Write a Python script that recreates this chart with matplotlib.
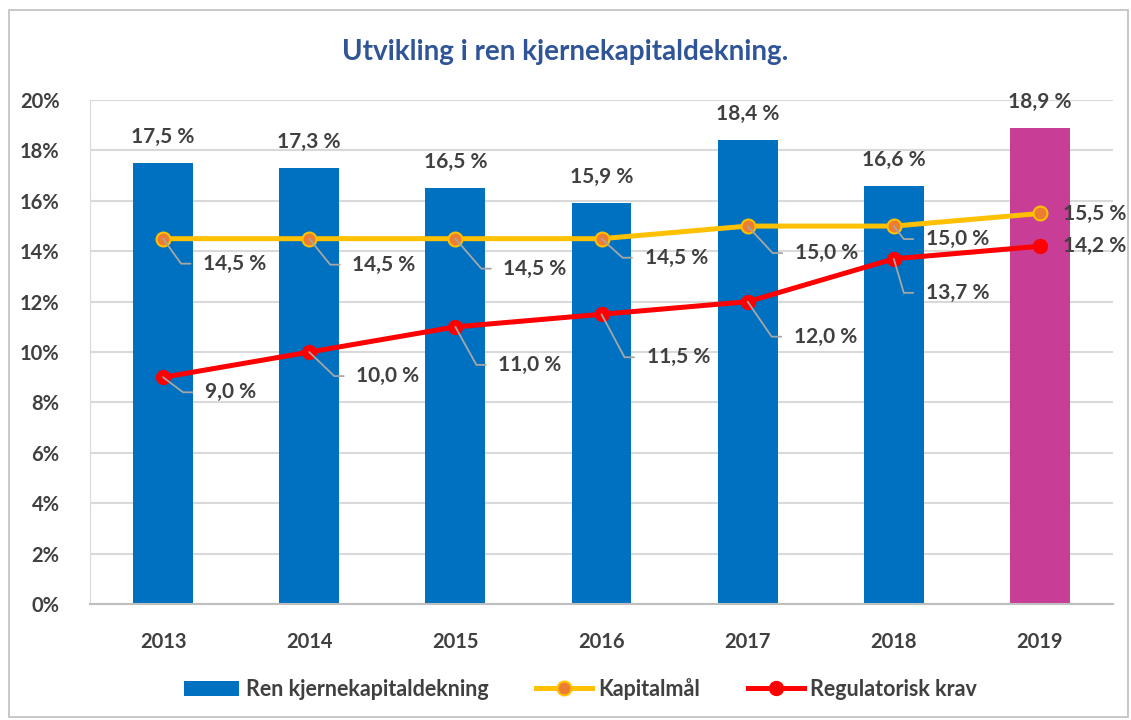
"""Utvikling i ren kjernekapitaldekning - bar + line combo chart."""

import math

import matplotlib

matplotlib.use("Agg")
import matplotlib.pyplot as plt
from matplotlib.patches import Rectangle
from matplotlib.ticker import FuncFormatter, MultipleLocator

# =====================================================================
# Data
# =====================================================================

years = ["2013", "2014", "2015", "2016", "2017", "2018", "2019"]
ren_kjernekapital = [17.5, 17.3, 16.5, 15.9, 18.4, 16.6, 18.9]
kapitalmaal = [14.5, 14.5, 14.5, 14.5, 15.0, 15.0, 15.5]
regulatorisk_krav = [9.0, 10.0, 11.0, 11.5, 12.0, 13.7, 14.2]

# label offsets (pixels) for line labels; None -> plain label to the right
kap_offsets = [(40, -25), (43, -26), (48, -30), (43, -19), (47, -27), (32, -13), None]
reg_offsets = [(42, -15), (47, -24), (43, -38), (45, -43), (46, -35), (32, -34), None]

TEXT = "#404040"
BLUE = "#0070C0"
MAGENTA = "#C83E96"
YELLOW = "#FFC000"
ORANGE = "#ED7D31"
RED = "#FF0000"
LEADER = "#A6A6A6"
FS = 15

plt.rcParams["font.family"] = ["Lato", "DejaVu Sans"]
plt.rcParams["font.weight"] = "bold"


def pct(v: float) -> str:
    return f"{v:.1f} %".replace(".", ",")


fig = plt.figure(figsize=(11.31, 7.2), dpi=100)
ax = fig.add_axes([0.0796, 0.161, 0.9045, 0.7])

x = list(range(len(years)))
bar_colors = [BLUE] * (len(years) - 1) + [MAGENTA]
bars = ax.bar(x, [v / 100 for v in ren_kjernekapital], width=0.41, color=bar_colors,
              zorder=2, label="Ren kjernekapitaldekning")
for rect, v in zip(bars, ren_kjernekapital):
    ax.annotate(pct(v), (rect.get_x() + rect.get_width() / 2, rect.get_height()),
                xytext=(0, 26), textcoords="offset pixels", ha="center", va="center",
                fontsize=FS, color=TEXT, fontweight="bold")

kap_line, = ax.plot(x, [v / 100 for v in kapitalmaal], color=YELLOW, lw=3.6, marker="o",
                    markersize=10, markerfacecolor=ORANGE, markeredgecolor=YELLOW,
                    markeredgewidth=1.5, zorder=3, label="Kapitalmål")
reg_line, = ax.plot(x, [v / 100 for v in regulatorisk_krav], color=RED, lw=3.6, marker="o",
                    markersize=10, markerfacecolor=RED, markeredgecolor=RED, zorder=3,
                    label="Regulatorisk krav")


def _line_labels(values, offsets):
    for xi, v, off in zip(x, values, offsets):
        if off is None:
            ax.annotate(pct(v), (xi, v / 100), xytext=(23, 0), textcoords="offset pixels",
                        ha="left", va="center", fontsize=FS, color=TEXT, fontweight="bold")
            continue
        dx, dy = off
        ang = math.degrees(math.atan2(dy, dx - 22))
        ax.annotate(pct(v), (xi, v / 100), xytext=(dx, dy), textcoords="offset pixels",
                    ha="left", va="center", fontsize=FS, color=TEXT, fontweight="bold",
                    zorder=4,
                    arrowprops=dict(arrowstyle="-", color=LEADER, lw=1.3, shrinkA=7, shrinkB=0,
                                    relpos=(0, 0.5),
                                    connectionstyle=f"angle,angleA=0,angleB={ang}"))


_line_labels(kapitalmaal, kap_offsets)
_line_labels(regulatorisk_krav, reg_offsets)

ax.set_xlim(-0.5, len(years) - 0.5)
ax.set_ylim(0, 0.2)
ax.set_xticks(x)
ax.set_xticklabels(years)
ax.yaxis.set_major_locator(MultipleLocator(0.02))
ax.yaxis.set_major_formatter(FuncFormatter(lambda v, _: f"{v * 100:.0f}%"))
ax.tick_params(axis="both", length=0, labelsize=14.5, labelcolor=TEXT)
ax.tick_params(axis="y", pad=22)
ax.tick_params(axis="x", pad=20)
ax.grid(axis="y", color="#D9D9D9", lw=1.5, zorder=0)
for side in ["top", "right"]:
    ax.spines[side].set_visible(False)
ax.spines["left"].set_color("#D9D9D9")
ax.spines["bottom"].set_color("#BFBFBF")
ax.spines["bottom"].set_linewidth(1.5)

fig.text(0.5, 0.928, "Utvikling i ren kjernekapitaldekning.", ha="center", va="center",
         fontsize=20, color="#2F5597", fontweight="bold")

fig.legend(handles=[bars, kap_line, reg_line], loc="center", bbox_to_anchor=(0.513, 0.043),
           ncol=3, frameon=False, fontsize=15.5, handlelength=2.6, handletextpad=0.3,
           columnspacing=2.2, labelcolor=TEXT)

fig.patches.append(Rectangle((0.008, 0.004), 0.989, 0.982, transform=fig.transFigure,
                             fill=False, edgecolor="#BFBFBF", lw=1.2))

fig.savefig("out.png", dpi=100)
